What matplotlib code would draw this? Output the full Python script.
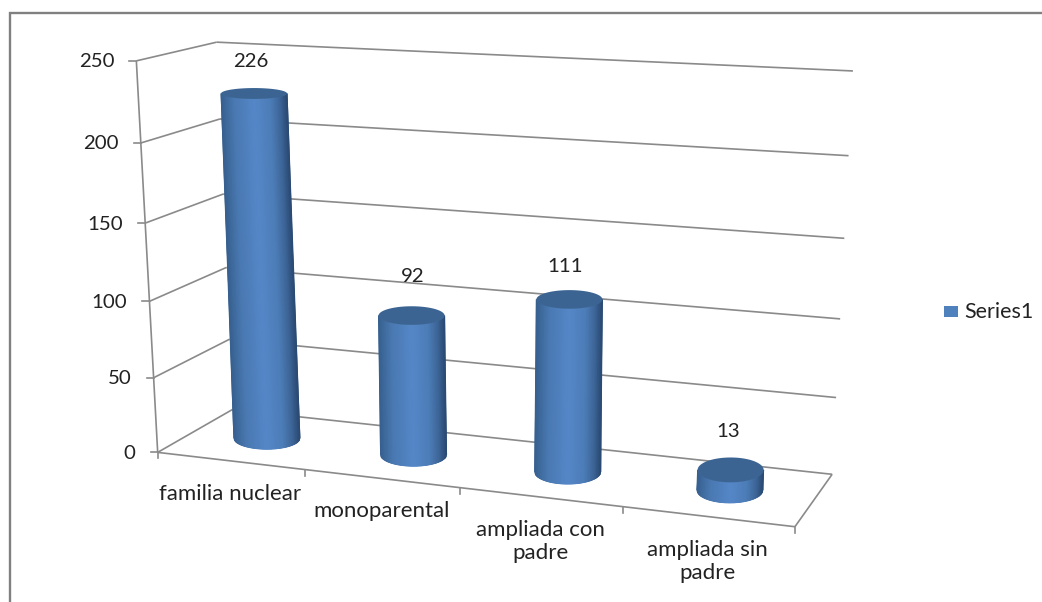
import matplotlib
matplotlib.use('Agg')
import matplotlib.pyplot as plt
from matplotlib.colors import LinearSegmentedColormap
from matplotlib.patches import Polygon, Rectangle
import numpy as np

categories = ['familia nuclear', 'monoparental', 'ampliada con\npadre', 'ampliada sin\npadre']
values = [226, 92, 111, 13]
y_ticks = [0, 50, 100, 150, 200, 250]
series_name = 'Series1'

plt.rcParams['font.family'] = ['Lato', 'DejaVu Sans']

# box corners on the canvas, as (x share, height, depth) -> pixel
box_3d = [(0, 0, 0), (0, 250, 0), (0, 0, 1), (0, 250, 1),
          (1, 0, 1), (1, 250, 1), (1, 0, 0)]
box_px = [(157, 452), (137, 61), (233, 410), (216, 42),
          (832, 474), (853, 71), (795, 527)]

rows, rhs = [], []
for (bx, by, bz), (u, v) in zip(box_3d, box_px):
    by = by / 250
    rows.append([bx, by, bz, 1, 0, 0, 0, 0, -u * bx, -u * by, -u * bz])
    rows.append([0, 0, 0, 0, bx, by, bz, 1, -v * bx, -v * by, -v * bz])
    rhs += [u, v]
cam = np.append(np.linalg.lstsq(np.array(rows, float), np.array(rhs, float), rcond=None)[0], 1).reshape(3, 4)


def project(x, y, z):
    x, y, z = np.broadcast_arrays(x, np.asarray(y) / 250, z)
    pts = np.stack([x, y, z, np.ones_like(x, dtype=float)], axis=-1) @ cam.T
    return pts[..., 0] / pts[..., 2], pts[..., 1] / pts[..., 2]


def line3d(ax, p0, p1, **kw):
    xs, ys = project(np.array([p0[0], p1[0]]), np.array([p0[1], p1[1]]), np.array([p0[2], p1[2]]))
    ax.plot(xs, ys, color=grid_color, lw=1.2, solid_capstyle='butt', **kw)


def disc(cx, height):
    # screen-aligned ellipse of a cylinder slice: centre and half height
    px, py = project(cx, height, 0.5)
    _, near = project(cx, height, 0.5 - radius_z)
    _, far = project(cx, height, 0.5 + radius_z)
    return px, py, abs(near - far) / 2


grid_color = '#8a8a8a'
text_color = '#222222'
shade = LinearSegmentedColormap.from_list('cyl', [
    (0.0, '#37608f'), (0.2, '#4a79b2'), (0.5, '#5587c8'),
    (0.75, '#4d7db8'), (0.9, '#3d6597'), (1.0, '#2a4a73')])

fig = plt.figure(figsize=(10.42, 6.02), dpi=100)
ax = fig.add_axes([0, 0, 1, 1])
ax.set_xlim(0, 1042)
ax.set_ylim(602, 0)
ax.axis('off')

# outer chart border, runs off the right and bottom
ax.plot([10, 10, 1042], [602, 13, 13], color='#808080', lw=1.7, solid_joinstyle='miter')

# walls and floor
for tick in y_ticks:
    line3d(ax, (0, tick, 0), (0, tick, 1))
    line3d(ax, (0, tick, 1), (1, tick, 1))
    tx, ty = project(0.0, tick, 0.0)
    ax.plot([tx - 7, tx], [ty, ty], color=grid_color, lw=1.2)
    ax.text(tx - 22, ty + 1, str(tick), ha='right', va='center', fontsize=14.7, color=text_color)
line3d(ax, (0, 0, 0), (0, 250, 0))
line3d(ax, (0, 0, 0), (1, 0, 0))
line3d(ax, (1, 0, 0), (1, 0, 1))

n = len(categories)
for i in range(n + 1):
    tx, ty = project(i / n, 0, 0.0)
    ax.plot([tx, tx], [ty, ty + 6], color=grid_color, lw=1.2)

# cylinders: smooth shaded front half, flat lid on top
half_width, radius_z = 33.0, 0.25
label_nudge = [(-3, 4), (1, -3), (-4, 3), (-2, -2)]
around = np.linspace(-1, 1, 81)
theta = np.linspace(0, 2 * np.pi, 181)
for i, (cat, val) in enumerate(zip(categories, values)):
    cx = (i + 0.5) / n
    bx0, by0, bh = disc(cx, 0)
    tx0, ty0, th = disc(cx, val)
    bulge = np.sqrt(1 - around ** 2)
    mesh_x = np.vstack([bx0 + half_width * around, tx0 + half_width * around])
    mesh_y = np.vstack([by0 + bh * bulge, ty0 + th * bulge])
    shades = np.vstack([(around + 1) / 2, (around + 1) / 2])
    ax.pcolormesh(mesh_x, mesh_y, shades, cmap=shade, vmin=0, vmax=1, shading='gouraud', zorder=3)

    lid = np.column_stack([tx0 + half_width * np.cos(theta), ty0 + th * np.sin(theta)])
    ax.add_patch(Polygon(lid, closed=True, fc='#3b6493', ec='none', zorder=4))

    lx, ly = project(cx, val, 0.5)
    ax.text(lx + label_nudge[i][0], ly - 36 + label_nudge[i][1], str(val), ha='center', va='center',
            fontsize=14.7, color=text_color, zorder=5)

    fx, fy = project(cx, 0, 0.0)
    ax.text(fx, fy + 23, cat, ha='center', va='top', fontsize=16, color=text_color, linespacing=1.2)

ax.set_xlim(0, 1042)
ax.set_ylim(602, 0)

# legend
ax.add_patch(Rectangle((944, 306), 14, 11, fc='#4f81bd', ec='none'))
ax.text(964, 312, series_name, ha='left', va='center', fontsize=15.5, color=text_color)

fig.savefig('out.png', dpi=100)
